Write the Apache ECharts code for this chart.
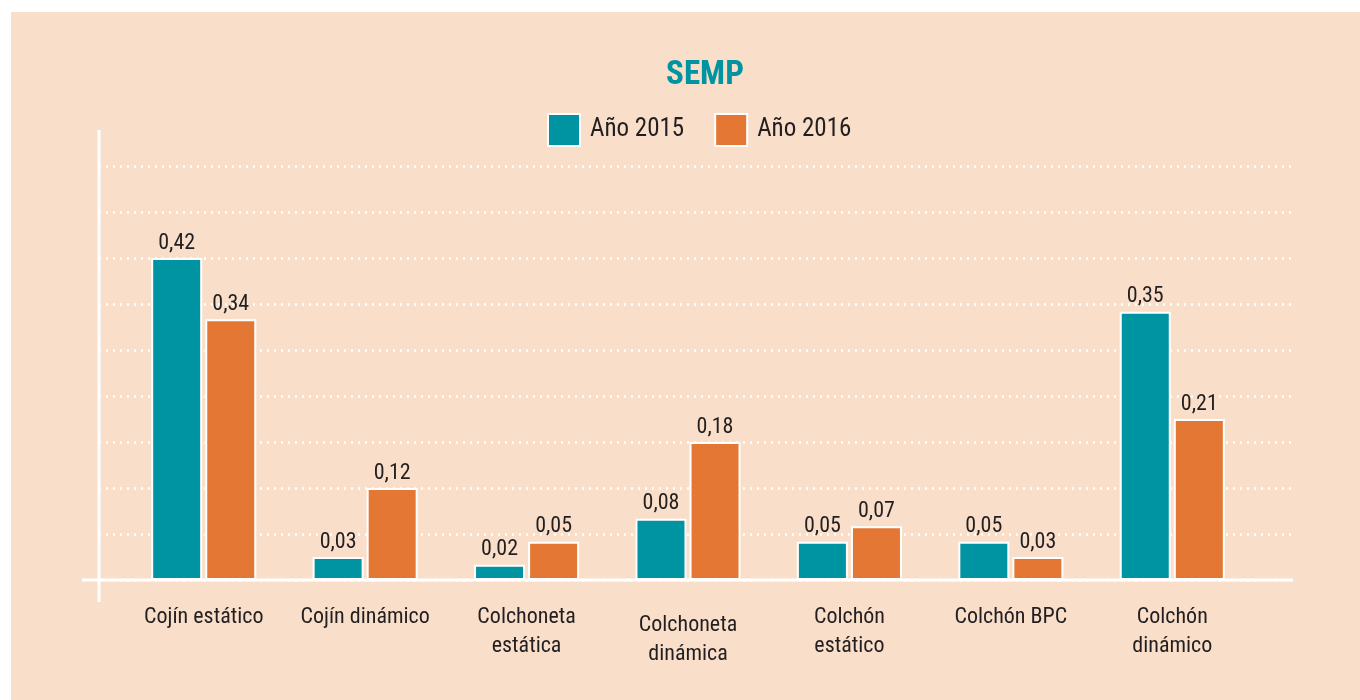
<!DOCTYPE html>
<html>
<head>
<meta charset="utf-8">
<script src="https://cdn.jsdelivr.net/npm/echarts@6/dist/echarts.min.js"></script>
<style>
  html, body { margin: 0; padding: 0; background: #ffffff; }
  #bg { position: absolute; left: 11px; top: 12px; width: 1349px; height: 688px; background: #F9DFCA; }
  #c { position: absolute; left: 0; top: 0; width: 1360px; height: 700px; }
</style>
</head>
<body>
<div id="bg"></div>
<div id="c"></div>
<script>
const categories = ['Cojín estático', 'Cojín dinámico', 'Colchoneta\nestática', 'Colchoneta\ndinámica', 'Colchón\nestático', 'Colchón BPC', 'Colchón\ndinámico'];
const values2015 = [0.42, 0.03, 0.02, 0.08, 0.05, 0.05, 0.35];
const values2016 = [0.34, 0.12, 0.05, 0.18, 0.07, 0.03, 0.21];
const seriesNames = ['Año 2015', 'Año 2016'];
const yMin = 0, yMax = 0.54, yInterval = 0.06;

const FONT = '"Liberation Sans Narrow", "Roboto Condensed", "DejaVu Sans Condensed", sans-serif';
const TEAL = '#0093A2', ORANGE = '#E37733', TEXT = '#231F20';

const chart = echarts.init(document.getElementById('c'), null, { renderer: 'canvas' });

function fmt(v) { return v.toFixed(2).replace('.', ','); }

const barLabel = {
  show: true, position: 'top', distance: 4,
  fontFamily: FONT, fontSize: 22, color: TEXT,
  formatter: p => fmt(p.value)
};

chart.setOption({
  backgroundColor: 'transparent',
  animation: false,
  title: {
    text: 'SEMP', left: 700, top: 54, textAlign: 'center',
    textStyle: { fontFamily: FONT, fontSize: 33, fontWeight: 'bold', color: TEAL }
  },
  legend: {
    data: seriesNames, top: 113, left: 547, padding: 0,
    itemWidth: 32, itemHeight: 32, itemGap: 30,
    icon: 'rect',
    itemStyle: { borderColor: '#ffffff', borderWidth: 2 },
    textStyle: { fontFamily: FONT, fontSize: 25, color: TEXT, padding: [4, 0, 0, 5] }
  },
  grid: [
    { left: 123, right: 107, top: 166, bottom: 120 },
    { left: 99, right: 67, top: 166, bottom: 120 }
  ],
  xAxis: [
    {
      type: 'category', gridIndex: 0, data: categories.map((c, i) => i === 3 ? { value: c, textStyle: { padding: [8, 0, 0, 0] } } : c),
      axisLine: { show: false }, axisTick: { show: false },
      axisLabel: { margin: 23, fontFamily: FONT, fontSize: 22, color: TEXT, lineHeight: 29, interval: 0 }
    },
    { type: 'value', gridIndex: 1, min: 0, max: 1, show: false }
  ],
  yAxis: [
    { type: 'value', gridIndex: 0, min: yMin, max: yMax, interval: yInterval, show: false },
    {
      type: 'value', gridIndex: 1, min: yMin, max: yMax, interval: yInterval,
      axisLine: { show: false }, axisTick: { show: false }, axisLabel: { show: false },
      splitLine: { show: true, lineStyle: { color: '#ffffff', width: 2.5, type: [2, 5] } }
    }
  ],
  graphic: [
    { type: 'line', shape: { x1: 99, y1: 130, x2: 99, y2: 602 }, style: { stroke: '#ffffff', lineWidth: 3 }, z: 10 },
    { type: 'line', shape: { x1: 82, y1: 580, x2: 1293, y2: 580 }, style: { stroke: '#ffffff', lineWidth: 3 }, z: 10 }
  ],
  series: [
    {
      name: seriesNames[0], type: 'bar', xAxisIndex: 0, yAxisIndex: 0,
      data: values2015, barWidth: 51, barGap: '6%',
      itemStyle: { color: TEAL, borderColor: '#ffffff', borderWidth: 2 },
      label: barLabel
    },
    {
      name: seriesNames[1], type: 'bar', xAxisIndex: 0, yAxisIndex: 0,
      data: values2016, barWidth: 51, barGap: '6%',
      itemStyle: { color: ORANGE, borderColor: '#ffffff', borderWidth: 2 },
      label: barLabel
    }
  ]
});
</script>
</body>
</html>
